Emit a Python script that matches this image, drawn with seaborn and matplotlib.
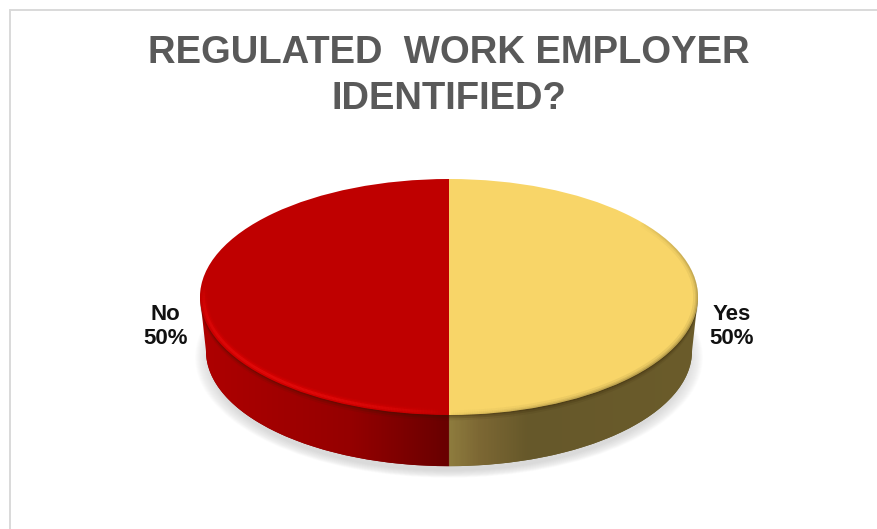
import numpy as np
import matplotlib
matplotlib.use("Agg")
import matplotlib.pyplot as plt
from matplotlib.collections import LineCollection
from matplotlib.colors import LinearSegmentedColormap, to_rgb
from matplotlib.patches import Ellipse, PathPatch
from matplotlib.path import Path
from matplotlib.lines import Line2D
import seaborn as sns

categories = ["Yes", "No"]
shares = [50, 50]
face_colors = ["#F8D568", "#BF0000"]
title = "REGULATED  WORK EMPLOYER\nIDENTIFIED?"

sns.set_theme(style="white")
plt.rcParams["font.family"] = ["Liberation Sans", "DejaVu Sans"]

W, H = 877, 529
CX, CY, RX, RY = 449.0, 297.0, 249.0, 118.0
low_r = 0.976          # the lower rim is a little narrower (perspective)
low_c = -(351.0 - CY) / RY

fig = plt.figure(figsize=(W / 100, H / 100), dpi=100, facecolor="white")
ax = fig.add_axes([0, 0, 1, 1])
xlim = (-CX / RX, (W - CX) / RX)
ylim = (-(H - CY) / RY, CY / RY)

# soft shadow under the disc
for grow in np.linspace(1.045, 0.985, 16):
    ax.add_patch(Ellipse((0, low_c - 0.055), 2 * grow * low_r, 2 * grow * low_r,
                         fc="#8c8c8c", ec="none", alpha=0.02, zorder=1))

# lower rim: same shares, lowered by the depth
ax.pie(shares, colors=["#665A2A", "#800000"], startangle=90, counterclock=False,
       center=(0, low_c), radius=low_r, frame=False,
       wedgeprops={"zorder": 2, "lw": 0})

t = np.linspace(np.pi, 2 * np.pi, 300)
xs = np.r_[-1, low_r * np.cos(t), 1, -1]
ys = np.r_[0, low_c + low_r * np.sin(t), 0, 0]
side_cmap = LinearSegmentedColormap.from_list("side", [
    (0.0, "#AE0000"), (0.12, "#A40000"), (0.30, "#950000"), (0.499, "#680000"),
    (0.501, "#8E7C3E"), (0.56, "#7D6834"), (0.66, "#66582A"), (1.0, "#6B5C2B")])
img = ax.imshow(np.linspace(0, 1, 600)[None, :], cmap=side_cmap, aspect="auto",
                extent=(-1, 1, low_c - 1, 0), zorder=3, interpolation="bilinear")
patch = PathPatch(Path(np.c_[xs, ys]), transform=ax.transData, fc="none", ec="none")
ax.add_patch(patch)
img.set_clip_path(patch)

# dark soft band beneath the top face
for a, w in [(0.08, 0.045), (0.14, 0.028), (0.22, 0.012)]:
    ax.add_patch(Ellipse((0, -w), 2, 2, fc="#2a1a00", ec="none", alpha=a, zorder=4))

# top face with labels
wedges, texts = ax.pie(shares, colors=face_colors, startangle=90, counterclock=False,
                       center=(0, 0), radius=1, frame=False,
                       labels=[f"{c}\n{s}%" for c, s in zip(categories, shares)],
                       labeldistance=1.06,
                       wedgeprops={"zorder": 5, "lw": 0},
                       textprops={"fontsize": 16, "fontweight": "bold",
                                  "color": "#111111", "linespacing": 1.25,
                                  "zorder": 8, "multialignment": "center"})
texts[0].set_position((1.044, -0.25))
texts[0].set_ha("left"); texts[0].set_va("center")
texts[1].set_position((-1.048, -0.25))
texts[1].set_ha("right"); texts[1].set_va("center")

face_clip = Ellipse((0, 0), 2, 2, fc="none", ec="none", transform=ax.transData)
ax.add_patch(face_clip)


def rim(start, stop, radius_x, radius_y, color, width, peak):
    """Arc along the face edge whose opacity fades in and out at its ends."""
    a = np.linspace(start, stop, 260)
    pts = np.c_[radius_x * np.cos(a), radius_y * np.sin(a)]
    segs = np.stack([pts[:-1], pts[1:]], axis=1)
    u = np.linspace(0, 1, len(segs))
    alpha = peak * np.sin(np.pi * u) ** 0.6
    rgba = np.c_[np.tile(to_rgb(color), (len(segs), 1)), alpha]
    lc = LineCollection(segs, colors=rgba, linewidths=width, zorder=6, capstyle="butt")
    ax.add_collection(lc)
    lc.set_clip_path(face_clip)


# bevel: bright on the red half, soft edge on the yellow half
for lw, al, col in [(6, 0.25, "#DC0000"), (4, 0.45, "#E00000"), (2, 0.6, "#EC1010")]:
    rim(np.pi * 0.97, 1.49 * np.pi, 0.985, 0.975, col, lw, al)
for lw, al in [(7, 0.10), (4, 0.16), (2, 0.25)]:
    rim(1.5 * np.pi, 2.22 * np.pi, 1.0, 1.0, "#6B5C2B", lw, al)

ax.set_aspect("auto")
ax.set_xlim(xlim)
ax.set_ylim(ylim)
ax.axis("off")

fig.text(449 / W, 1 - 76 / H, title, ha="center", va="center", fontsize=27.5,
         fontweight="bold", color="#595959", linespacing=1.33)

# chart-area border
for xx, yy in [([9.5 / W, 9.5 / W], [0, 1 - 9.5 / H]), ([9.5 / W, 1], [1 - 9.5 / H, 1 - 9.5 / H])]:
    fig.add_artist(Line2D(xx, yy, color="#D9D9D9", lw=1.4))

fig.savefig("out.png", dpi=100)
